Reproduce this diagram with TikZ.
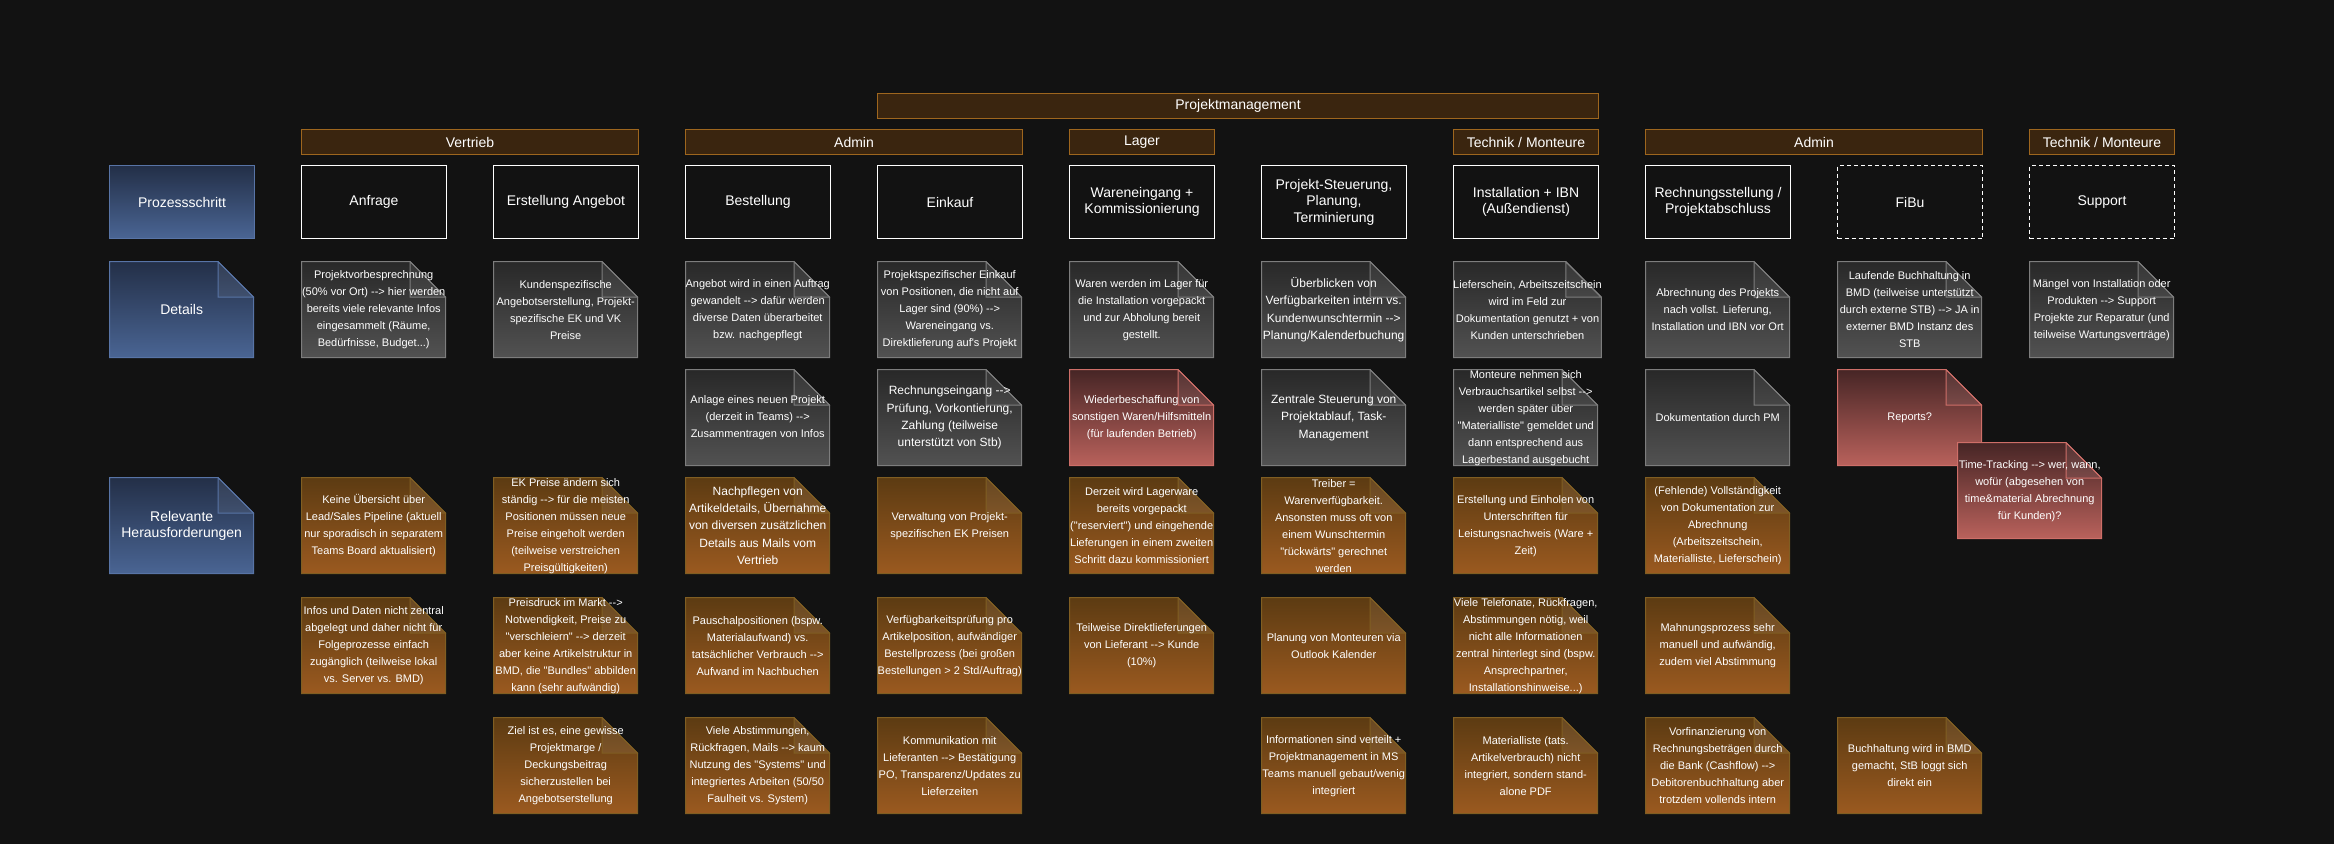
\documentclass[tikz,border=0pt]{standalone}
\usepackage{fontspec}
\setmainfont{Liberation Sans}[Ligatures=TeXOff]
\usepackage{tikz}
\usetikzlibrary{positioning}
\definecolor{bg}{RGB}{18,18,18}
\definecolor{hdrfill}{RGB}{58,37,15}
\definecolor{hdrline}{RGB}{158,102,30}
\definecolor{bluetop}{RGB}{35,47,71}
\definecolor{bluebot}{RGB}{74,101,148}
\definecolor{blueline}{RGB}{88,116,166}
\definecolor{graytop}{RGB}{40,40,40}
\definecolor{graybot}{RGB}{82,82,82}
\definecolor{grayline}{RGB}{125,125,125}
\definecolor{orangetop}{RGB}{92,59,18}
\definecolor{orangebot}{RGB}{155,90,32}
\definecolor{orangeline}{RGB}{128,94,34}
\definecolor{redtop}{RGB}{70,37,37}
\definecolor{redbot}{RGB}{186,98,92}
\definecolor{redline}{RGB}{206,110,104}

\begin{document}
\begin{tikzpicture}[x=1pt, y=-1pt,
    every node/.style={text=white, align=center},
    hdr/.style={draw=hdrline, fill=hdrfill, line width=1pt, minimum height=25pt,
                anchor=north west, font=\fontsize{14}{17}\selectfont},
    stepbox/.style={draw=white, line width=1pt, fill=bg, minimum width=145pt,
                minimum height=73pt, anchor=north west, font=\fontsize{14}{16.5}\selectfont},
    optbox/.style={stepbox, dash pattern=on 4pt off 3pt},
    card/.style n args={3}{fill=bg, minimum width=145pt, minimum height=97pt, inner sep=0pt,
                anchor=north west, font=\fontsize{11}{17}\selectfont,
        path picture={
            \shadedraw[top color=#1, bottom color=#2, draw=#3, line width=1pt]
                ([shift={(0.5pt,-0.5pt)}]path picture bounding box.north west)
                -- ([shift={(-36pt,-0.5pt)}]path picture bounding box.north east)
                -- ([shift={(-0.5pt,-36pt)}]path picture bounding box.north east)
                -- ([shift={(-0.5pt,0.5pt)}]path picture bounding box.south east)
                -- ([shift={(0.5pt,0.5pt)}]path picture bounding box.south west) -- cycle;
            \filldraw[fill=white, fill opacity=0.07, draw=#3, line width=1pt]
                ([shift={(-36pt,-0.5pt)}]path picture bounding box.north east)
                -- ([shift={(-36pt,-36pt)}]path picture bounding box.north east)
                -- ([shift={(-0.5pt,-36pt)}]path picture bounding box.north east) -- cycle;
        }},
    graycard/.style={card={graytop}{graybot}{grayline}},
    orangecard/.style={card={orangetop}{orangebot}{orangeline}},
    redcard/.style={card={redtop}{redbot}{redline}},
    bluecard/.style={card={bluetop}{bluebot}{blueline}, font=\fontsize{14}{16.5}\selectfont},
    bigtext/.style={font=\fontsize{12}{17.3}\selectfont}
]
    \path[use as bounding box, fill=bg] (0,0) rectangle (2334,844);

    % Gruppen
    \node[hdr, minimum width=721pt] (pm) at (877,93) {Projektmanagement};
    \node[hdr, minimum width=337pt] (vertrieb) at (301,129) {Vertrieb};
    \node[hdr, minimum width=337pt] (adminA) at (685,129) {Admin};
    \node[hdr, minimum width=145pt] (lager) at (1069,129) {Lager};
    \node[hdr, minimum width=145pt] (technikA) at (1453,129) {Technik / Monteure};
    \node[hdr, minimum width=337pt] (adminB) at (1645,129) {Admin};
    \node[hdr, minimum width=145pt] (technikB) at (2029,129) {Technik / Monteure};

    % Prozessschritte
    \node[stepbox, draw=blueline, top color=bluetop, bottom color=bluebot] (prozess) at (109,165) {Prozessschritt};
    \node[stepbox] (anfrage) at (301,165) {Anfrage};
    \node[stepbox] (angebot) at (493,165) {Erstellung Angebot};
    \node[stepbox] (bestellung) at (685,165) {Bestellung};
    \node[stepbox] (einkauf) at (877,165) {Einkauf};
    \node[stepbox] (wareneingang) at (1069,165) {Wareneingang +\\Kommissionierung};
    \node[stepbox] (steuerung) at (1261,165) {Projekt-Steuerung,\\Planung,\\Terminierung};
    \node[stepbox] (installation) at (1453,165) {Installation + IBN\\(Außendienst)};
    \node[stepbox] (rechnung) at (1645,165) {Rechnungsstellung /\\Projektabschluss};
    \node[optbox] (fibu) at (1837,165) {FiBu};
    \node[optbox] (support) at (2029,165) {Support};

    % Details
    \node[bluecard] (details) at (109,261) {Details};
    \node[graycard] (d-anfrage) at (301,261) {Projektvorbesprechnung\\(50\% vor Ort) --> hier werden\\bereits viele relevante Infos\\eingesammelt (Räume,\\Bedürfnisse, Budget...)};
    \node[graycard] (d-angebot) at (493,261) {Kundenspezifische\\Angebotserstellung, Projekt-\\spezifische EK und VK\\Preise};
    \node[graycard] (d-bestellung) at (685,261) {Angebot wird in einen Auftrag\\gewandelt --> dafür werden\\diverse Daten überarbeitet\\bzw. nachgepflegt};
    \node[graycard] (d-einkauf) at (877,261) {Projektspezifischer Einkauf\\von Positionen, die nicht auf\\Lager sind (90\%) -->\\Wareneingang vs.\\Direktlieferung auf's Projekt};
    \node[graycard] (d-wareneingang) at (1069,261) {Waren werden im Lager für\\die Installation vorgepackt\\und zur Abholung bereit\\gestellt.};
    \node[graycard, bigtext] (d-steuerung) at (1261,261) {Überblicken von\\Verfügbarkeiten intern vs.\\Kundenwunschtermin -->\\Planung/Kalenderbuchung};
    \node[graycard] (d-installation) at (1453,261) {Lieferschein, Arbeitszeitschein\\wird im Feld zur\\Dokumentation genutzt + von\\Kunden unterschrieben};
    \node[graycard] (d-rechnung) at (1645,261) {Abrechnung des Projekts\\nach vollst. Lieferung,\\Installation und IBN vor Ort};
    \node[graycard] (d-fibu) at (1837,261) {Laufende Buchhaltung in\\BMD (teilweise unterstützt\\durch externe STB) --> JA in\\externer BMD Instanz des\\STB};
    \node[graycard] (d-support) at (2029,261) {Mängel von Installation oder\\Produkten --> Support\\Projekte zur Reparatur (und\\teilweise Wartungsverträge)};

    \node[graycard] (e-bestellung) at (685,369) {Anlage eines neuen Projekt\\(derzeit in Teams) -->\\Zusammentragen von Infos};
    \node[graycard, bigtext] (e-einkauf) at (877,369) {Rechnungseingang -->\\Prüfung, Vorkontierung,\\Zahlung (teilweise\\unterstützt von Stb)};
    \node[redcard] (e-wareneingang) at (1069,369) {Wiederbeschaffung von\\sonstigen Waren/Hilfsmitteln\\(für laufenden Betrieb)};
    \node[graycard, bigtext] (e-steuerung) at (1261,369) {Zentrale Steuerung von\\Projektablauf, Task-\\Management};
    \node[graycard] (e-installation) at (1453,369) {Monteure nehmen sich\\Verbrauchsartikel selbst -->\\werden später über\\"Materialliste" gemeldet und\\dann entsprechend aus\\Lagerbestand ausgebucht};
    \node[graycard] (e-rechnung) at (1645,369) {Dokumentation durch PM};
    \node[redcard] (reports) at (1837,369) {Reports?};
    \node[redcard] (timetracking) at (1957,442) {Time-Tracking --> wer, wann,\\wofür (abgesehen von\\time\&material Abrechnung\\für Kunden)?};

    % Herausforderungen
    \node[bluecard] (herausf) at (109,477) {Relevante\\Herausforderungen};
    \node[orangecard] (h1-anfrage) at (301,477) {Keine Übersicht über\\Lead/Sales Pipeline (aktuell\\nur sporadisch in separatem\\Teams Board aktualisiert)};
    \node[orangecard] (h1-angebot) at (493,477) {EK Preise ändern sich\\ständig --> für die meisten\\Positionen müssen neue\\Preise eingeholt werden\\(teilweise verstreichen\\Preisgültigkeiten)};
    \node[orangecard, bigtext] (h1-bestellung) at (685,477) {Nachpflegen von\\Artikeldetails, Übernahme\\von diversen zusätzlichen\\Details aus Mails vom\\Vertrieb};
    \node[orangecard] (h1-einkauf) at (877,477) {Verwaltung von Projekt-\\spezifischen EK Preisen};
    \node[orangecard] (h1-wareneingang) at (1069,477) {Derzeit wird Lagerware\\bereits vorgepackt\\("reserviert") und eingehende\\Lieferungen in einem zweiten\\Schritt dazu kommissioniert};
    \node[orangecard] (h1-steuerung) at (1261,477) {Treiber =\\Warenverfügbarkeit.\\Ansonsten muss oft von\\einem Wunschtermin\\"rückwärts" gerechnet\\werden};
    \node[orangecard] (h1-installation) at (1453,477) {Erstellung und Einholen von\\Unterschriften für\\Leistungsnachweis (Ware +\\Zeit)};
    \node[orangecard] (h1-rechnung) at (1645,477) {(Fehlende) Vollständigkeit\\von Dokumentation zur\\Abrechnung\\(Arbeitszeitschein,\\Materialliste, Lieferschein)};

    \node[orangecard] (h2-anfrage) at (301,597) {Infos und Daten nicht zentral\\abgelegt und daher nicht für\\Folgeprozesse einfach\\zugänglich (teilweise lokal\\vs. Server vs. BMD)};
    \node[orangecard] (h2-angebot) at (493,597) {Preisdruck im Markt -->\\Notwendigkeit, Preise zu\\"verschleiern" --> derzeit\\aber keine Artikelstruktur in\\BMD, die "Bundles" abbilden\\kann (sehr aufwändig)};
    \node[orangecard] (h2-bestellung) at (685,597) {Pauschalpositionen (bspw.\\Materialaufwand) vs.\\tatsächlicher Verbrauch -->\\Aufwand im Nachbuchen};
    \node[orangecard] (h2-einkauf) at (877,597) {Verfügbarkeitsprüfung pro\\Artikelposition, aufwändiger\\Bestellprozess (bei großen\\Bestellungen > 2 Std/Auftrag)};
    \node[orangecard] (h2-wareneingang) at (1069,597) {Teilweise Direktlieferungen\\von Lieferant --> Kunde\\(10\%)};
    \node[orangecard] (h2-steuerung) at (1261,597) {Planung von Monteuren via\\Outlook Kalender};
    \node[orangecard] (h2-installation) at (1453,597) {Viele Telefonate, Rückfragen,\\Abstimmungen nötig, weil\\nicht alle Informationen\\zentral hinterlegt sind (bspw.\\Ansprechpartner,\\Installationshinweise...)};
    \node[orangecard] (h2-rechnung) at (1645,597) {Mahnungsprozess sehr\\manuell und aufwändig,\\zudem viel Abstimmung};

    \node[orangecard] (h3-angebot) at (493,717) {Ziel ist es, eine gewisse\\Projektmarge /\\Deckungsbeitrag\\sicherzustellen bei\\Angebotserstellung};
    \node[orangecard] (h3-bestellung) at (685,717) {Viele Abstimmungen,\\Rückfragen, Mails --> kaum\\Nutzung des "Systems" und\\integriertes Arbeiten (50/50\\Faulheit vs. System)};
    \node[orangecard] (h3-einkauf) at (877,717) {Kommunikation mit\\Lieferanten --> Bestätigung\\PO, Transparenz/Updates zu\\Lieferzeiten};
    \node[orangecard] (h3-steuerung) at (1261,717) {Informationen sind verteilt +\\Projektmanagement in MS\\Teams manuell gebaut/wenig\\integriert};
    \node[orangecard] (h3-installation) at (1453,717) {Materialliste (tats.\\Artikelverbrauch) nicht\\integriert, sondern stand-\\alone PDF};
    \node[orangecard] (h3-rechnung) at (1645,717) {Vorfinanzierung von\\Rechnungsbeträgen durch\\die Bank (Cashflow) -->\\Debitorenbuchhaltung aber\\trotzdem vollends intern};
    \node[orangecard] (h3-fibu) at (1837,717) {Buchhaltung wird in BMD\\gemacht, StB loggt sich\\direkt ein};
\end{tikzpicture}
\end{document}
